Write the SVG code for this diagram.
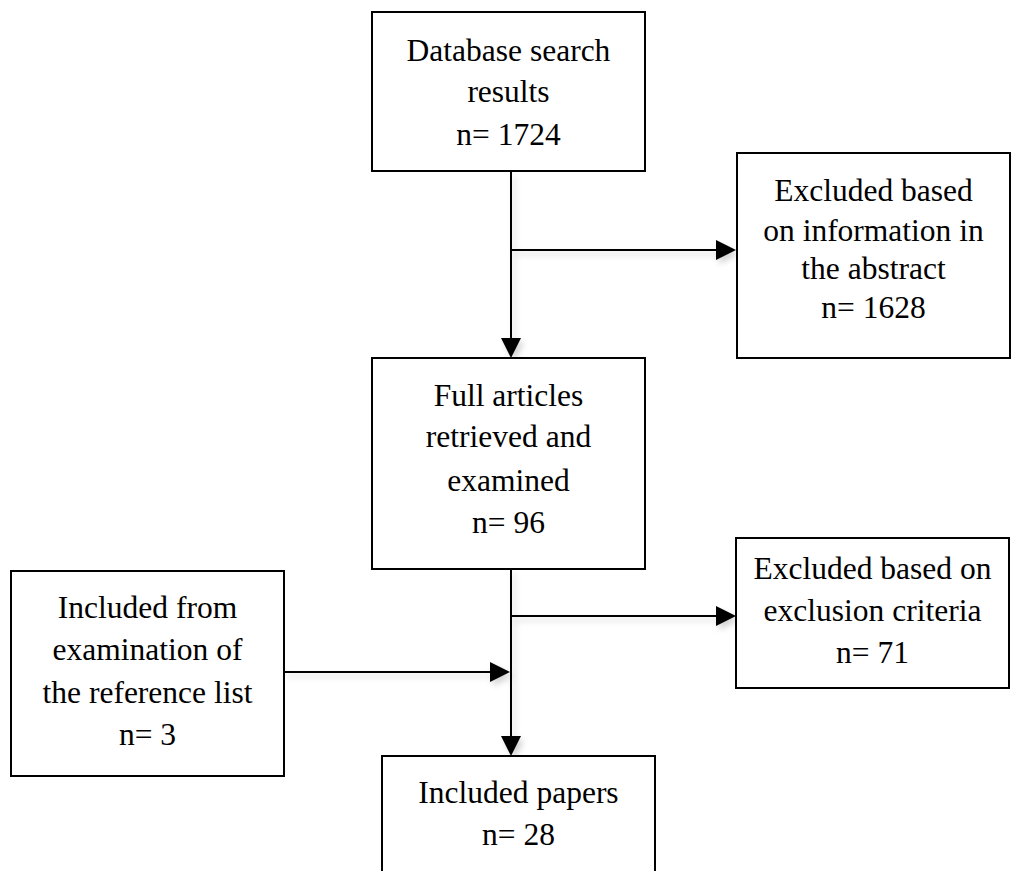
<svg xmlns="http://www.w3.org/2000/svg" width="1030" height="871" viewBox="0 0 1030 871">
  <style>
    .box { fill: #ffffff; stroke: #000000; stroke-width: 2; }
    .lbl { font-family: "Liberation Serif", "Times New Roman", serif; font-size: 31.5px; fill: #000000; text-anchor: middle; }
    .conn { stroke: #000000; stroke-width: 2; fill: none; }
  </style>
  <defs>
    <marker id="arrow" markerUnits="userSpaceOnUse" markerWidth="20" markerHeight="20" refX="10" refY="10" orient="auto">
      <path d="M0,0 L20,10 L0,20 Z" fill="#000000"/>
    </marker>
    <filter id="shadow" x="-20%" y="-20%" width="140%" height="140%">
      <feGaussianBlur in="SourceAlpha" stdDeviation="3"/>
      <feOffset dx="3" dy="4" result="b"/>
      <feComponentTransfer><feFuncA type="linear" slope="0.18"/></feComponentTransfer>
      <feMerge><feMergeNode/><feMergeNode in="SourceGraphic"/></feMerge>
    </filter>
  </defs>
  <rect width="1030" height="871" fill="#ffffff"/>

  <g id="connectors" filter="url(#shadow)">
    <line class="conn" x1="511" y1="171" x2="511" y2="348" marker-end="url(#arrow)"/>
    <line class="conn" x1="511" y1="250" x2="726" y2="250" marker-end="url(#arrow)"/>
    <line class="conn" x1="511" y1="569" x2="511" y2="746" marker-end="url(#arrow)"/>
    <line class="conn" x1="511" y1="616" x2="726" y2="616" marker-end="url(#arrow)"/>
    <line class="conn" x1="284" y1="672" x2="500" y2="672" marker-end="url(#arrow)"/>
  </g>

  <g id="database-search">
    <rect class="box" x="372" y="12" width="273" height="159"/>
    <text class="lbl" x="508.5" y="61">Database search</text>
    <text class="lbl" x="508.5" y="102">results</text>
    <text class="lbl" x="508.5" y="145">n= 1724</text>
  </g>

  <g id="excluded-abstract">
    <rect class="box" x="737" y="153" width="273" height="205"/>
    <text class="lbl" x="873.5" y="201">Excluded based</text>
    <text class="lbl" x="873.5" y="241">on information in</text>
    <text class="lbl" x="873.5" y="279">the abstract</text>
    <text class="lbl" x="873.5" y="318">n= 1628</text>
  </g>

  <g id="full-articles">
    <rect class="box" x="372" y="358" width="273" height="211"/>
    <text class="lbl" x="508.5" y="406">Full articles</text>
    <text class="lbl" x="508.5" y="447">retrieved and</text>
    <text class="lbl" x="508.5" y="491">examined</text>
    <text class="lbl" x="508.5" y="533">n= 96</text>
  </g>

  <g id="excluded-criteria">
    <rect class="box" x="736" y="538" width="273" height="150"/>
    <text class="lbl" x="872.5" y="579">Excluded based on</text>
    <text class="lbl" x="872.5" y="621">exclusion criteria</text>
    <text class="lbl" x="872.5" y="663">n= 71</text>
  </g>

  <g id="included-reference">
    <rect class="box" x="11" y="571" width="273" height="205"/>
    <text class="lbl" x="147.5" y="618">Included from</text>
    <text class="lbl" x="147.5" y="660">examination of</text>
    <text class="lbl" x="147.5" y="703">the reference list</text>
    <text class="lbl" x="147.5" y="745">n= 3</text>
  </g>

  <g id="included-papers">
    <rect class="box" x="382" y="756" width="273" height="130"/>
    <text class="lbl" x="518.5" y="803">Included papers</text>
    <text class="lbl" x="518.5" y="845">n= 28</text>
  </g>
</svg>
